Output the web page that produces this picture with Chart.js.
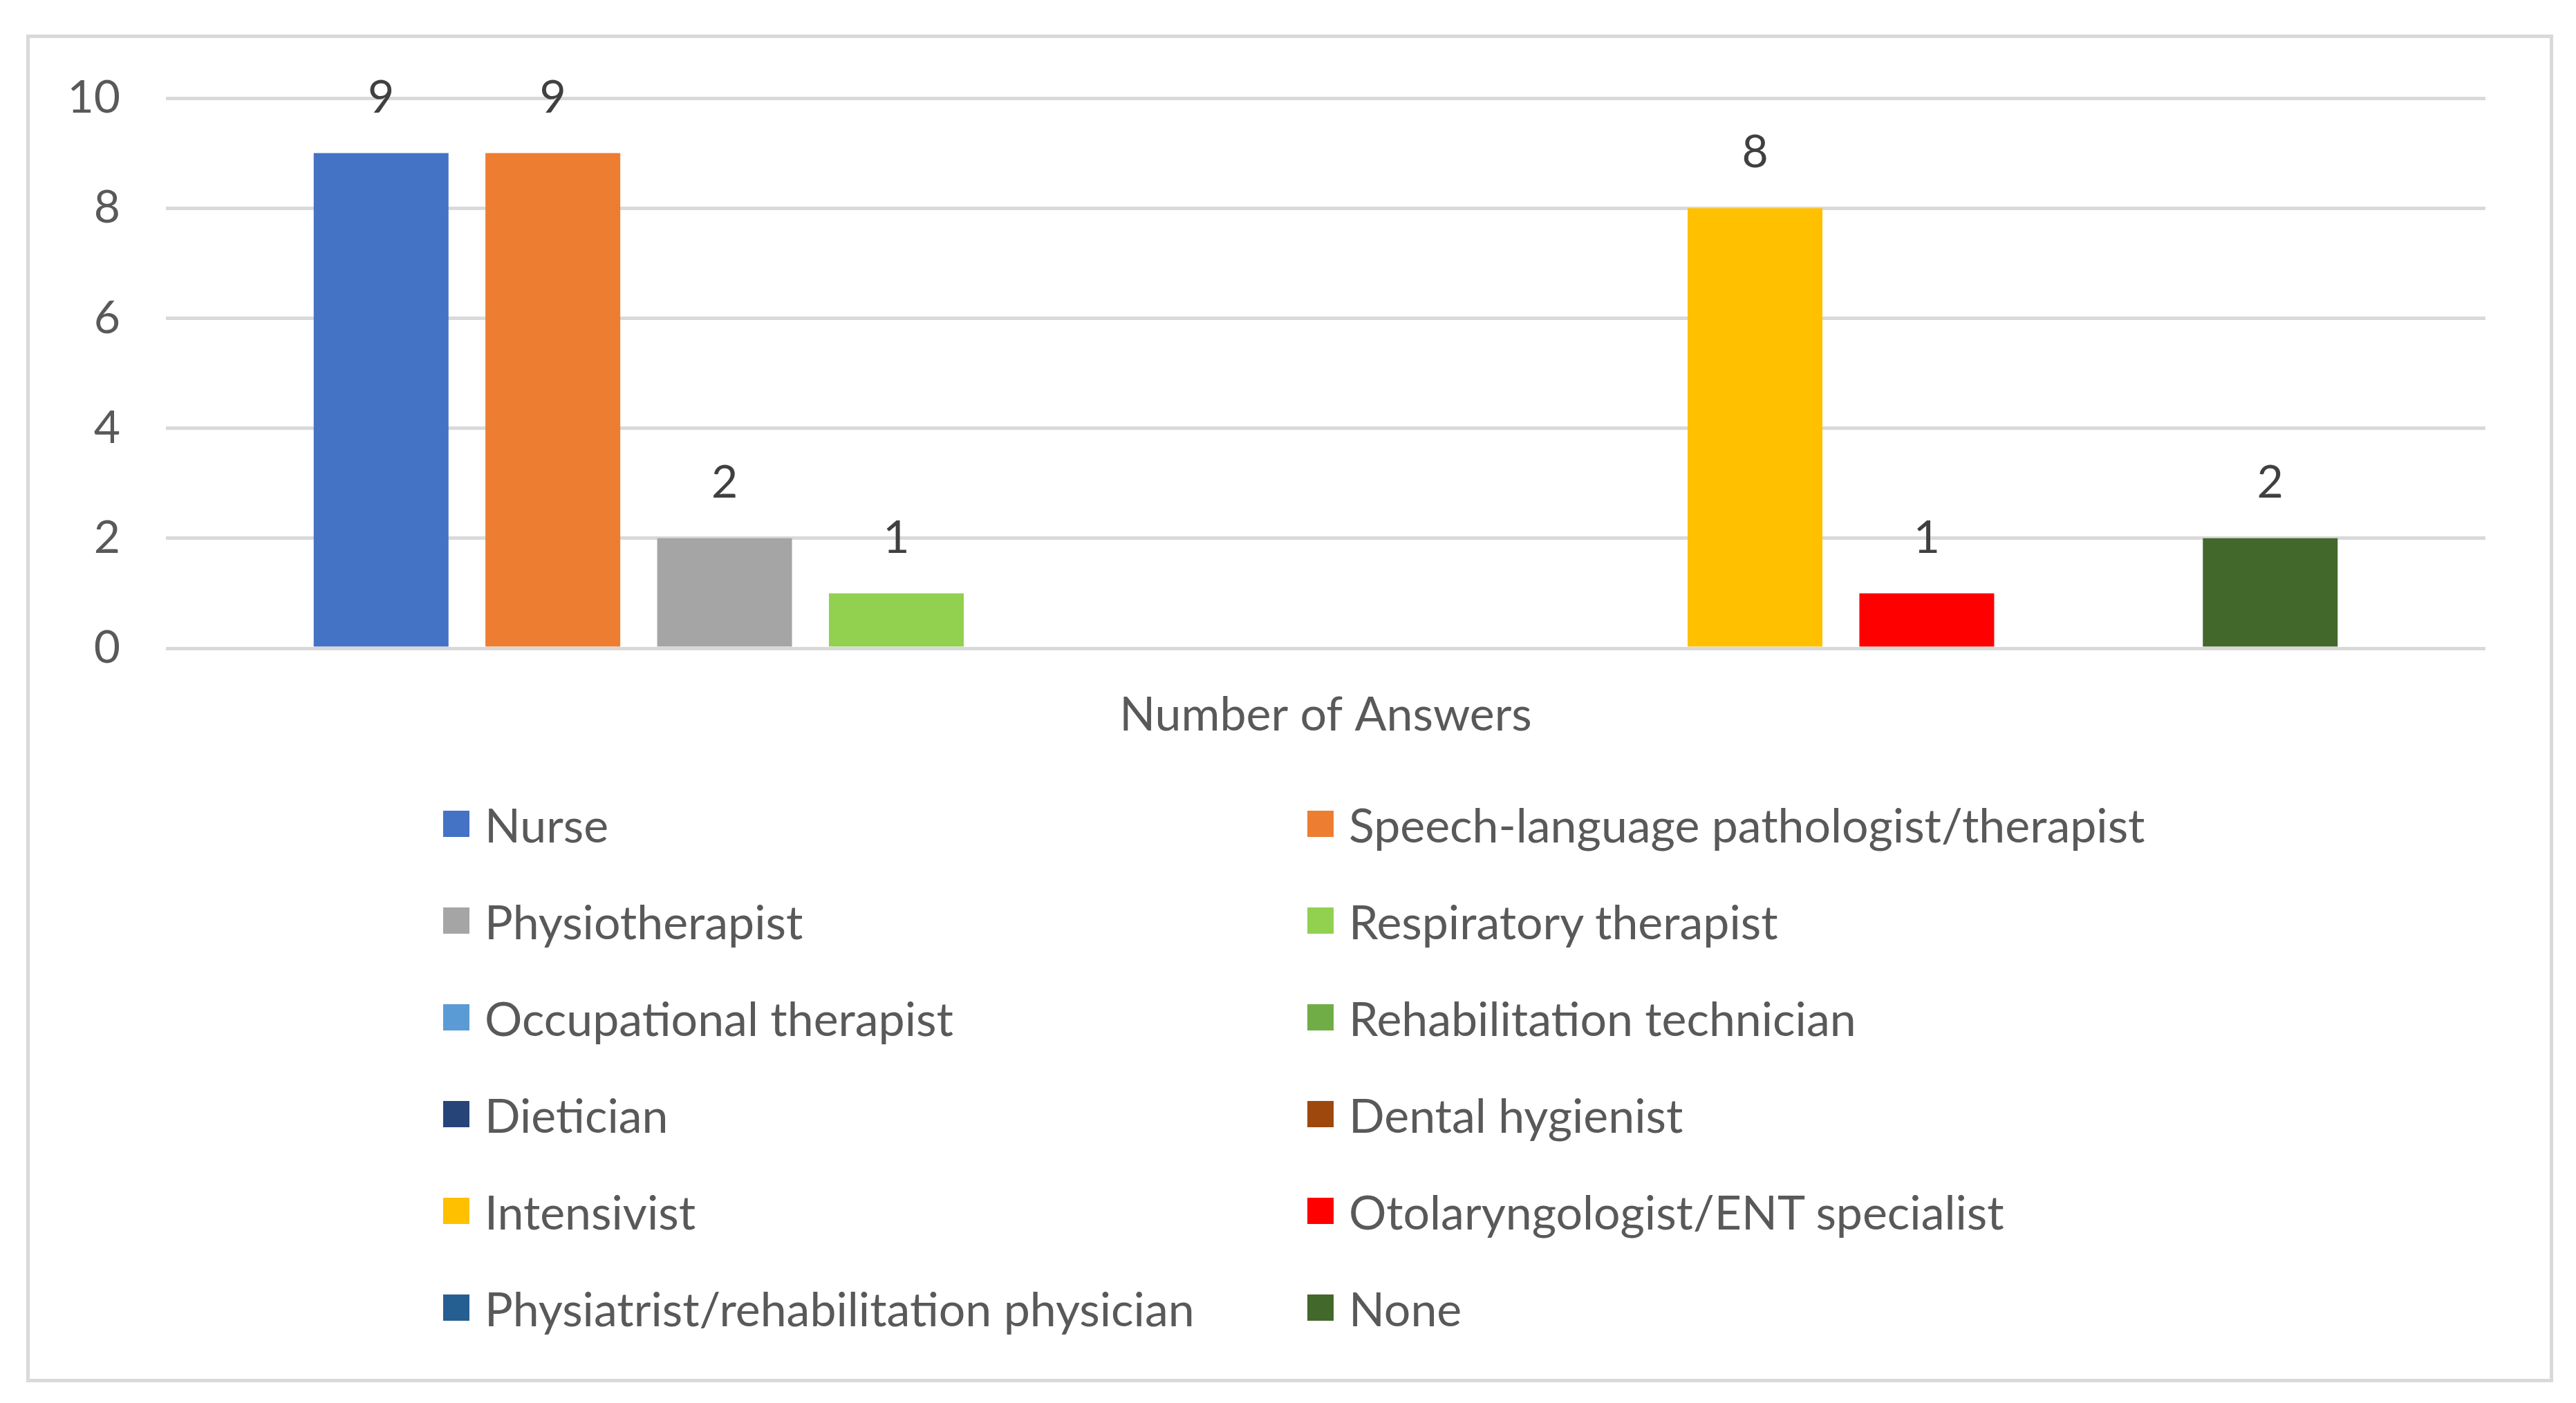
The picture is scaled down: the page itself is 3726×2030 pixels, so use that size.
<!DOCTYPE html>
<html>
<head>
<meta charset="utf-8">
<script src="https://cdn.jsdelivr.net/npm/chart.js@4"></script>
<style>
  html, body { margin: 0; padding: 0; background: #ffffff; }
  #wrap { position: relative; width: 3726px; height: 2030px; }
  #frame {
    position: absolute; left: 38px; top: 50px; width: 3645px; height: 1940px;
    border: 5px solid #d9d9d9; pointer-events: none;
  }
  #legend {
    position: absolute; left: 641px; top: 1122px;
    display: grid; grid-template-columns: 1250px 1250px; grid-auto-rows: 140px;
    font-family: Lato, "Open Sans", sans-serif; font-size: 68px; color: #595959;
  }
  .item { display: flex; align-items: center; height: 140px; white-space: nowrap; }
  .box { width: 38px; height: 38px; margin-right: 22px; flex: none; }
</style>
</head>
<body>
<div id="wrap">
  <canvas id="barChart" width="3726" height="2030"></canvas>
  <div id="frame"></div>
  <div id="legend"></div>
</div>
<script>
// --- DATA ---
const categories = ['Number of Answers'];
const professions = [
    'Nurse', 'Speech-language pathologist/therapist',
    'Physiotherapist', 'Respiratory therapist',
    'Occupational therapist', 'Rehabilitation technician',
    'Dietician', 'Dental hygienist',
    'Intensivist', 'Otolaryngologist/ENT specialist',
    'Physiatrist/rehabilitation physician', 'None'
];
const answers = [9, 9, 2, 1, 0, 0, 0, 0, 8, 1, 0, 2];
const yTicks = [0, 2, 4, 6, 8, 10];
const colors = [
    '#4472C4', '#ED7D31', '#A5A5A5', '#92D050',
    '#5B9BD5', '#70AD47', '#264478', '#9E480E',
    '#FFC000', '#FF0000', '#255E91', '#43682B'
];

const FONT = 'Lato, "Open Sans", sans-serif';

// value labels above each non-zero bar
const valueLabels = {
    id: 'valueLabels',
    afterDatasetsDraw(chart) {
        const ctx = chart.ctx;
        ctx.save();
        ctx.font = '66px ' + FONT;
        ctx.fillStyle = '#404040';
        ctx.textAlign = 'center';
        ctx.textBaseline = 'middle';
        chart.data.datasets.forEach((ds, i) => {
            const meta = chart.getDatasetMeta(i);
            meta.data.forEach((bar, j) => {
                const v = ds.data[j];
                if (v > 0) ctx.fillText(String(v), bar.x, bar.y - 80);
            });
        });
        ctx.restore();
    }
};

const chart = new Chart(document.getElementById('barChart'), {
    type: 'bar',
    data: {
        labels: categories,
        datasets: professions.map((name, i) => ({
            label: name,
            data: [answers[i]],
            backgroundColor: colors[i],
            borderWidth: 0,
            categoryPercentage: 0.8885,
            barPercentage: 0.785
        }))
    },
    options: {
        responsive: false,
        animation: false,
        devicePixelRatio: 1,
        layout: { padding: { top: 142, right: 131, left: 0, bottom: 900 } },
        plugins: {
            legend: { display: false },
            tooltip: { enabled: false }
        },
        scales: {
            x: {
                grid: { display: false, drawTicks: false },
                border: { display: false },
                ticks: { color: '#595959', font: { family: FONT, size: 68 }, padding: 56 },
                afterFit: function(scale) { scale.height = 192; }
            },
            y: {
                min: 0,
                max: 10,
                afterBuildTicks: function(scale) {
                    scale.ticks = yTicks.map(v => ({ value: v }));
                },
                grid: { color: '#d9d9d9', lineWidth: 5, drawTicks: false },
                border: { display: false },
                ticks: { color: '#595959', font: { family: FONT, size: 66 }, padding: 66 },
                afterFit: function(scale) { scale.width = 240; }
            }
        }
    },
    plugins: [valueLabels]
});

// --- CUSTOM TWO-COLUMN LEGEND ---
const legendEl = document.getElementById('legend');
professions.forEach((name, i) => {
    const item = document.createElement('div');
    item.className = 'item';
    item.innerHTML = '<span class="box" style="background:' + colors[i] + '"></span><span>' + name + '</span>';
    legendEl.appendChild(item);
});
</script>
</body>
</html>
